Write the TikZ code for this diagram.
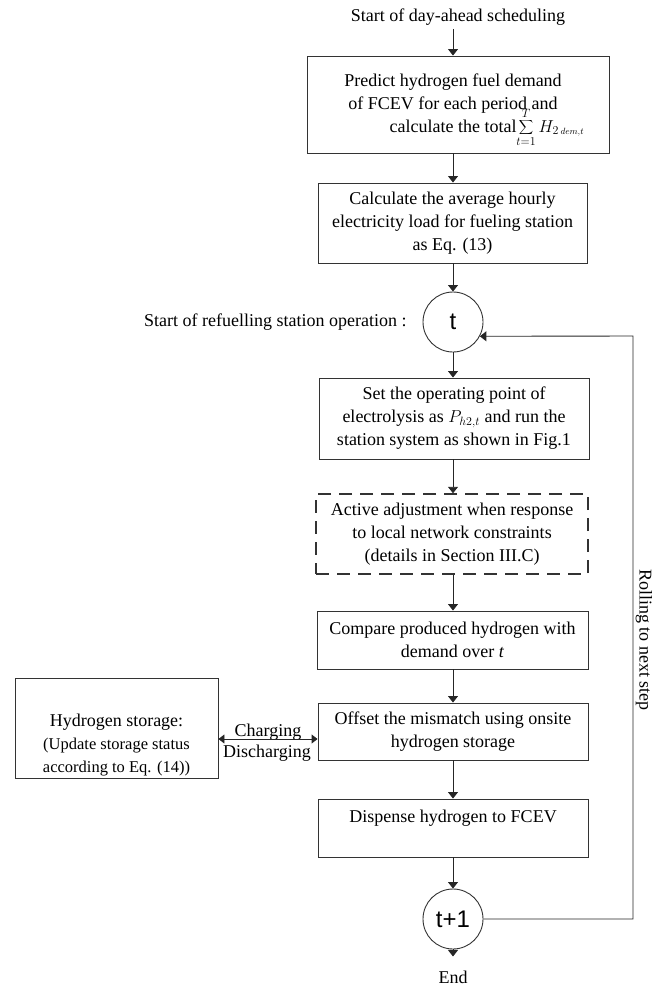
\documentclass[tikz,border=0pt]{standalone}
\usepackage{fontspec}
\setmainfont{Liberation Serif}
\newfontfamily\arialf{Liberation Sans}
\usetikzlibrary{arrows.meta}
\begin{document}
\begin{tikzpicture}[x=1pt,y=-1pt,
  every node/.style={font=\fontsize{18}{23}\selectfont},
  box/.style={draw=black!80, line width=0.9pt, inner sep=0pt, align=center},
  dbox/.style={box, line width=1.4pt, dash pattern=on 13pt off 8pt},
  circ/.style={draw=black!80, line width=0.9pt, circle, minimum size=60pt, inner sep=0pt,
     font=\arialf\fontsize{24}{28}\selectfont},
  link/.style={draw=black!85, line width=0.9pt, -{Triangle[width=10pt,length=6.5pt]}},
  dlink/.style={draw=black!85, line width=0.9pt, {Triangle[width=9pt,length=6pt]}-{Triangle[width=9pt,length=6pt]}}]
\useasboundingbox (0,0) rectangle (662,988);

\node (start) at (458,17) {Start of day-ahead scheduling};

\node[box, minimum width=302pt, minimum height=97pt] (b1) at (458,104.5)
 {\begin{tabular}{@{}c@{}}Predict hydrogen fuel demand\\ of FCEV for each period and\\
  calculate the total\rlap{\smash{$\displaystyle\sum_{t=1}^{T} H_{2\,\scriptscriptstyle dem,t}$}}\end{tabular}\hspace{10pt}};

\node[box, minimum width=269pt, minimum height=80pt] (b2) at (452.5,223)
 {Calculate the average hourly\\ electricity load for fueling station\\ as Eq. (13)};

\node[circ] (t) at (453,322) {t};
\node[anchor=east] (lbl) at (410,322) {Start of refuelling station operation :};

\node[box, minimum width=270pt, minimum height=81pt] (b3) at (454,418.5)
 {Set the operating point of\\ electrolysis as $P_{h2,t}$ and run the\\ station system as shown in Fig.1};

\node[dbox, minimum width=272pt, minimum height=80pt] (b4) at (452,534)
 {Active adjustment when response\\ to local network constraints\\ (details in Section III.C)};

\node[box, minimum width=271pt, minimum height=58pt] (b5) at (452.5,640)
 {Compare produced hydrogen with\\ demand over \textit{t}};

\node[box, minimum width=270pt, minimum height=57pt] (b6) at (453,731.5)
 {Offset the mismatch using onsite\\ hydrogen storage};

\node[box, minimum width=270pt, minimum height=58pt] (b7) at (453,828)
 {Dispense hydrogen to FCEV\\ \mbox{}};

\node[circ] (tp1) at (453,919) {t+1};
\node[inner ysep=14pt] (end) at (453,977) {End};

\node[box, minimum width=203pt, minimum height=100pt] (stor) at (116.5,728)
 {\raisebox{-21pt}[0pt][0pt]{\begin{tabular}{@{}c@{}}Hydrogen storage:\\
   \fontsize{16.5}{22}\selectfont (Update storage status\\
   \fontsize{16.5}{22}\selectfont according to Eq. (14))\end{tabular}}};

\node[anchor=base, inner sep=1pt] (chg) at (268,736) {Charging};
\node[anchor=base, inner sep=1pt] (dis) at (267,757) {Discharging};

\node[rotate=-90] (roll) at (644,640) {Rolling to next step};

\coordinate (cy) at (0,739);
\coordinate (back) at (633,336);

\draw[link] (start.south -| t) -- (b1.north -| t);
\draw[link] (b1.south -| t) -- (b2.north -| t);
\draw[link] (b2.south -| t) -- (t.north);
\draw[link] (t.south) -- (b3.north -| t);
\draw[link] (b3.south -| t) -- (b4.north -| t);
\draw[link] (b4.south -| t) -- (b5.north -| t);
\draw[link] (b5.south -| t) -- (b6.north -| t);
\draw[link] (b6.south -| t) -- (b7.north -| t);
\draw[link] (b7.south -| t) -- (tp1.north);
\draw[link] (tp1.south) -- (end.north);
\draw[link] (tp1.east) -| (back) -- (t.-28);
\draw[dlink] (stor.east |- cy) -- (b6.west |- cy);
\end{tikzpicture}
\end{document}
